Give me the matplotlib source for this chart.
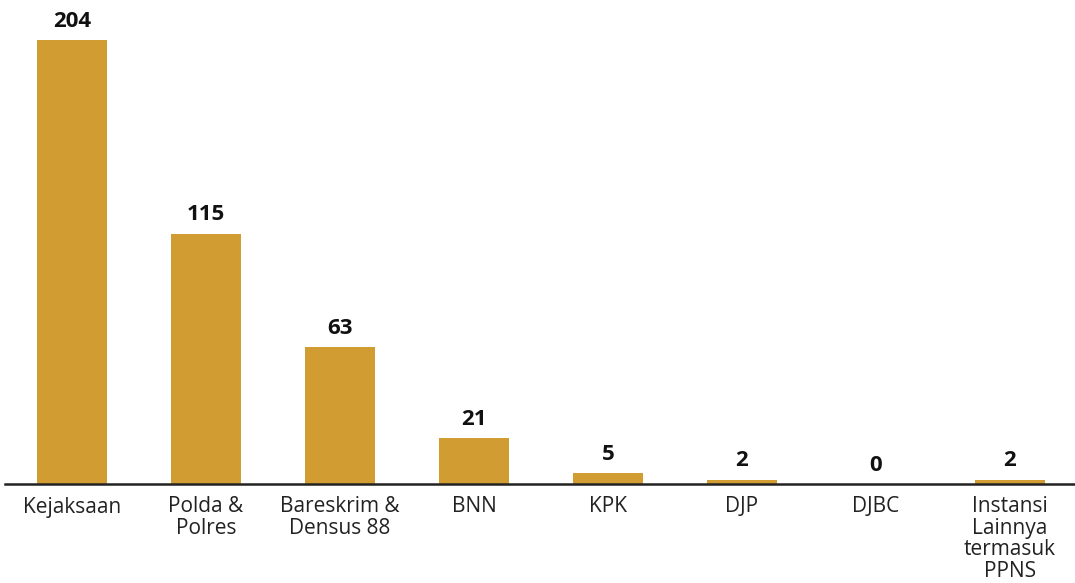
import matplotlib
matplotlib.use("Agg")
import matplotlib.pyplot as plt

categories = ["Kejaksaan", "Polda &\nPolres", "Bareskrim &\nDensus 88", "BNN", "KPK", "DJP", "DJBC",
              "Instansi\nLainnya\ntermasuk\nPPNS"]
values = [204, 115, 63, 21, 5, 2, 0, 2]

bar_color = "#D19C32"
plt.rcParams['font.family'] = ['Open Sans', 'DejaVu Sans']

fig = plt.figure(figsize=(10.75, 5.83), dpi=100)
ax = fig.add_axes([5/1075, 99/583, 1070/1075, 484/583])
x = list(range(len(categories)))
ax.bar(x, values, width=0.52, color=bar_color, zorder=2)
ax.set_xlim(-0.5, 7.485)
ax.set_ylim(0, 204*484/444)

for xi, v in zip(x, values):
    ax.annotate(str(v), (xi, v), xytext=(0, 6), textcoords="offset points",
                ha="center", va="bottom", fontsize=16, fontweight="bold", color="#111111")

for s in ["top", "right", "left"]:
    ax.spines[s].set_visible(False)
ax.spines["bottom"].set_color("#222222")
ax.spines["bottom"].set_linewidth(1.8)
ax.spines["bottom"].set_zorder(3)
ax.set_yticks([])
ax.set_xticks(x)
ax.set_xticklabels(categories, fontsize=15, color="#222222", linespacing=1.03)
ax.tick_params(axis="x", length=0, pad=9)

fig.savefig("out.png", dpi=100, facecolor="white")
